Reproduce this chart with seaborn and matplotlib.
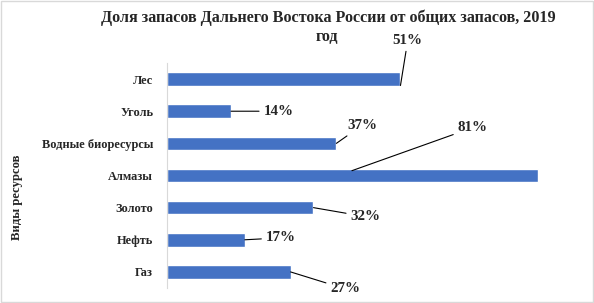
import matplotlib
matplotlib.use("Agg")
import matplotlib.pyplot as plt
import seaborn as sns
import pandas as pd
from matplotlib.patches import Rectangle

categories = ["Лес", "Уголь", "Водные биоресурсы", "Алмазы", "Золото", "Нефть", "Газ"]
values = [51, 14, 37, 81, 32, 17, 27]
labels = ["51%", "14%", "37%", "81%", "32%", "17%", "27%"]
title_lines = ["Доля запасов Дальнего Востока России от общих запасов, 2019", "год"]
ylabel = "Виды ресурсов"

# label layout (text position, leader anchor) in data units
label_pos = [(52.6, -1.21), (24.4, 1.0), (42.6, 1.44), (66.8, 1.51), (43.4, 4.28), (24.9, 4.94), (39.0, 6.53)]
anchor_x = [51, 14, 37, 40.4, 32, 17, 27]
anchor_dy = [0.2, 0, 0, -0.15, 0, 0, 0]

sns.set_style("white")
plt.rcParams['font.family'] = ['Liberation Serif', 'DejaVu Serif']

fig = plt.figure(figsize=(5.94, 3.03), dpi=100)
ax = fig.add_axes([167/594, 15/303, 412/594, 225/303])

df = pd.DataFrame({"cat": categories, "val": values})
sns.barplot(data=df, y="cat", x="val", orient="h", color="#4472c4", saturation=1,
            width=0.42, ax=ax)
ax.set_xlim(0, 90)
ax.set_ylim(6.5, -0.5)
ax.set_xticks([])
ax.set_xlabel("")
ax.set_ylabel("")
for s in ["top", "right", "bottom"]:
    ax.spines[s].set_visible(False)
ax.spines["left"].set_color("#d9d9d9")
ax.spines["left"].set_linewidth(0.8)
ax.tick_params(axis="y", length=0, pad=10)
for t in ax.get_yticklabels():
    t.set_fontweight("bold")
    t.set_fontsize(8.9)

for i, (lab, (tx, ty)) in enumerate(zip(labels, label_pos)):
    ax.annotate(lab, xy=(anchor_x[i], i + anchor_dy[i]), xytext=(tx, ty),
                ha="center", va="center", fontsize=10.8, fontweight="bold",
                arrowprops=dict(arrowstyle="-", color="black", lw=0.8,
                                shrinkA=1, shrinkB=0))

fig.text(328/594, 1 - 18/303, title_lines[0], ha="center", va="center", fontsize=11.6,
         fontweight="bold")
fig.text(327/594, 1 - 37/303, title_lines[1], ha="center", va="center", fontsize=11.6,
         fontweight="bold")
fig.text(17/594, 1 - 197/303, ylabel, rotation=90, ha="center", va="center",
         fontsize=9.2, fontweight="bold")

fig.patches.append(Rectangle((0.001, 0.002), 0.997, 0.995, transform=fig.transFigure,
                             fill=False, edgecolor="#d9d9d9", lw=1))

fig.savefig("out.png", dpi=100)
